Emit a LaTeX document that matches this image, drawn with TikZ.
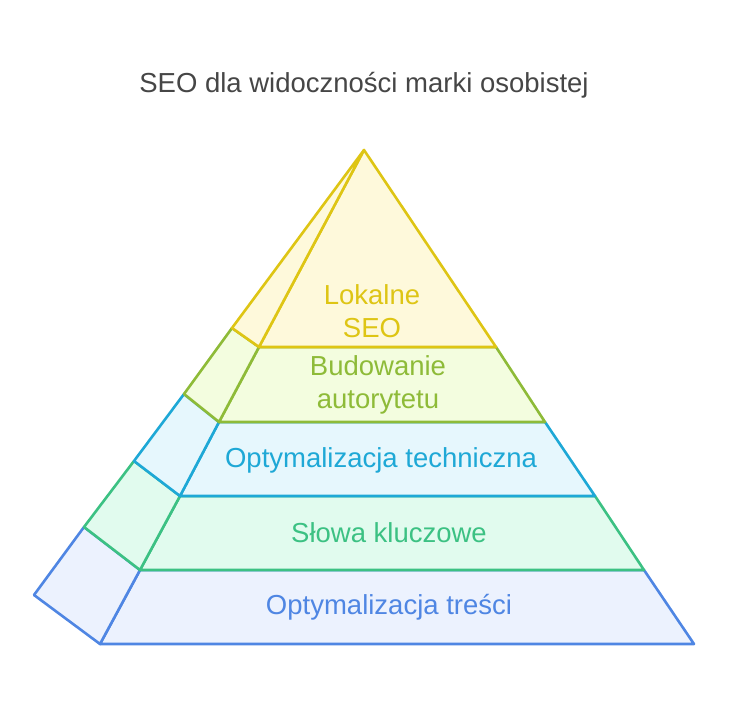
\documentclass[tikz,border=0pt]{standalone}
\usepackage{fontspec}
\setmainfont{Liberation Sans}
\definecolor{yS}{HTML}{DEC514}
\definecolor{yF}{HTML}{FEF9DB}
\definecolor{oS}{HTML}{8EBB38}
\definecolor{oF}{HTML}{F3FDDF}
\definecolor{cS}{HTML}{1EA8D6}
\definecolor{cF}{HTML}{E6F7FD}
\definecolor{gS}{HTML}{3CC183}
\definecolor{gF}{HTML}{E1FBEE}
\definecolor{bS}{HTML}{4F86E3}
\definecolor{bF}{HTML}{ECF2FE}
\definecolor{tC}{HTML}{464646}
\tikzset{
  face/.style={line width=2.6pt, line join=round},
  lbl/.style={font=\fontsize{27.5}{33}\selectfont, align=center, inner sep=0pt}
}
\begin{document}
\begin{tikzpicture}[x=1pt,y=-1pt]
\useasboundingbox (0,0) rectangle (729,713);
% points
\coordinate (A) at (364,150);
\coordinate (F1) at (259,347); \coordinate (R1) at (496,347); \coordinate (S1) at (232,328);
\coordinate (F2) at (219,422); \coordinate (R2) at (545,422); \coordinate (S2) at (184,394);
\coordinate (F3) at (180,496); \coordinate (R3) at (595,496); \coordinate (S3) at (134,461);
\coordinate (F4) at (140,570); \coordinate (R4) at (644,570); \coordinate (S4) at (84,527);
\coordinate (F5) at (100,644); \coordinate (R5) at (694,644); \coordinate (S5) at (34,595);
% layer 5 (bottom)
\draw[face, draw=bS, fill=bF] (F4) -- (F5) -- (R5) -- (R4) -- cycle;
\draw[face, draw=bS, fill=bF] (S4) -- (S5) -- (F5) -- (F4) -- cycle;
% layer 4
\draw[face, draw=gS, fill=gF] (F3) -- (F4) -- (R4) -- (R3) -- cycle;
\draw[face, draw=gS, fill=gF] (S3) -- (S4) -- (F4) -- (F3) -- cycle;
% layer 3
\draw[face, draw=cS, fill=cF] (F2) -- (F3) -- (R3) -- (R2) -- cycle;
\draw[face, draw=cS, fill=cF] (S2) -- (S3) -- (F3) -- (F2) -- cycle;
% layer 2
\draw[face, draw=oS, fill=oF] (F1) -- (F2) -- (R2) -- (R1) -- cycle;
\draw[face, draw=oS, fill=oF] (S1) -- (S2) -- (F2) -- (F1) -- cycle;
% layer 1 (top)
\draw[face, draw=yS, fill=yF] (A) -- (F1) -- (R1) -- cycle;
\draw[face, draw=yS, fill=yF] (A) -- (S1) -- (F1) -- cycle;
% labels
\node[lbl, text=tC] (title) at (364,85) {SEO dla widoczności marki osobistej};
\node[lbl, text=yS] (l1) at (372,311) {Lokalne\\SEO};
\node[lbl, text=oS] (l2) at (378,385) {Budowanie\\autorytetu};
\node[lbl, text=cS] (l3) at (381,460) {Optymalizacja techniczna};
\node[lbl, text=gS] (l4) at (389,533) {Słowa kluczowe};
\node[lbl, text=bS] (l5) at (389,607) {Optymalizacja treści};
\end{tikzpicture}
\end{document}
